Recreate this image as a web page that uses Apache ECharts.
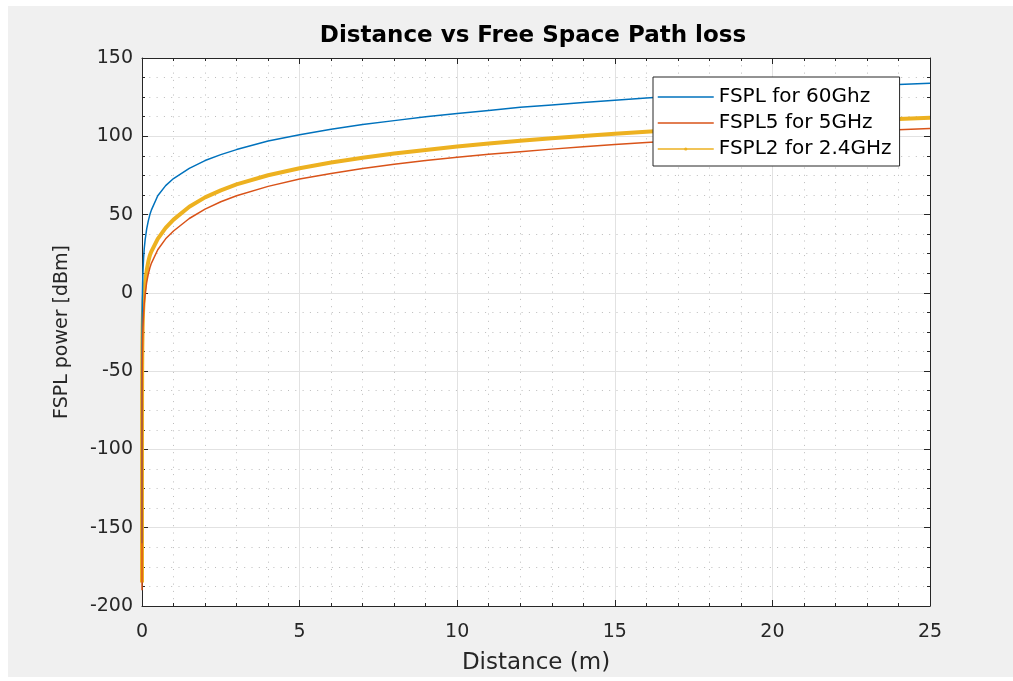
<!DOCTYPE html>
<html>
<head>
<meta charset="utf-8">
<script src="https://cdn.jsdelivr.net/npm/echarts@6/dist/echarts.min.js"></script>
<style>
html,body{margin:0;padding:0;background:#ffffff;}
#chart{width:1013px;height:681px;}
</style>
</head>
<body>
<div id="chart"></div>
<script>
// Distances (m) sampled along the curves
var distances = [0.0002, 0.001, 0.002, 0.005, 0.01, 0.02, 0.03, 0.05, 0.07, 0.1, 0.15, 0.2, 0.25, 0.3, 0.5, 0.75, 1, 1.5, 2, 2.5, 3, 4, 5, 6, 7, 8, 9, 10, 11, 12, 13, 14, 15, 16, 17, 18, 19, 20, 21, 22, 23, 24, 25];
// FSPL values (dBm)
var fspl60 = [-160, -55, -35, -17, -5, 6, 13, 22, 28, 34, 41, 46, 50, 53, 62, 68.5, 73, 79.5, 84.5, 88.3, 91.5, 97, 101, 104.5, 107.5, 110, 112.5, 114.5, 116.5, 118.5, 120, 121.5, 123, 124.5, 125.8, 127, 128, 129.2, 130.2, 131.2, 132, 133, 133.8];
var fspl5  = [-190, -95, -75, -57, -43, -30, -22, -13, -7, -1, 7, 12, 16, 19, 27.5, 34.5, 39.5, 47.5, 53.5, 58.2, 62, 68, 72.7, 76.3, 79.4, 82.1, 84.5, 86.6, 88.5, 90.2, 91.8, 93.3, 94.7, 96, 97.2, 98.3, 99.4, 100.4, 101.4, 102.3, 103.2, 104.1, 104.9];
var fspl2  = [-185, -88, -68, -49, -35, -22, -14, -5, 1, 7, 14.5, 20, 24, 26.5, 34.5, 41.5, 46.8, 55, 61, 65.5, 69.3, 75.1, 79.6, 83.2, 86.3, 89, 91.3, 93.5, 95.4, 97.1, 98.7, 100.2, 101.6, 102.9, 104.1, 105.2, 106.3, 107.3, 108.3, 109.2, 110.1, 111, 111.8];
var seriesNames = ['FSPL for 60Ghz', 'FSPL5 for 5GHz', 'FSPL2 for 2.4GHz'];
var xTicks = [0, 5, 10, 15, 20, 25];
var yTicks = [-200, -150, -100, -50, 0, 50, 100, 150];

function pairs(ys){ return distances.map(function(d,i){ return [d, ys[i]]; }); }

var chart = echarts.init(document.getElementById('chart'), null, {renderer:'canvas'});
var axisCol = '#262626';
var font = 'DejaVu Sans, Liberation Sans, Arial, sans-serif';
var G = {left:142, top:58, right:83, bottom:75};

function xAxis(pos, show){
  return {
    type:'value', position:pos, min:xTicks[0], max:xTicks[xTicks.length-1], interval:5,
    axisLine:{show:true, onZero:false, lineStyle:{color:axisCol, width:1}},
    axisTick:{show:true, inside:true, length:6, lineStyle:{color:axisCol}},
    minorTick:{show:true, splitNumber:5, length:3, lineStyle:{color:axisCol}},
    axisLabel:{show:show, color:axisCol, fontSize:19, fontFamily:font, margin:17},
    splitLine:{show:show, lineStyle:{color:'#e2e2e2', width:1}},
    minorSplitLine:{show:show, lineStyle:{color:'#bcbcbc', width:1, type:[1,6.3]}},
    name: show ? 'Distance (m)' : '', nameLocation:'middle', nameGap:46,
    nameTextStyle:{color:axisCol, fontSize:23, fontFamily:font}
  };
}
function yAxis(pos, show){
  return {
    type:'value', position:pos, min:yTicks[0], max:yTicks[yTicks.length-1], interval:50,
    axisLine:{show:true, onZero:false, lineStyle:{color:axisCol, width:1}},
    axisTick:{show:true, inside:true, length:6, lineStyle:{color:axisCol}},
    minorTick:{show:true, splitNumber:4, length:3, lineStyle:{color:axisCol}},
    axisLabel:{show:show, color:axisCol, fontSize:19, fontFamily:font, margin:9},
    splitLine:{show:show, lineStyle:{color:'#e2e2e2', width:1}},
    minorSplitLine:{show:show, lineStyle:{color:'#bcbcbc', width:1, type:[1,6.3]}},
    name: show ? 'FSPL power [dBm]' : '', nameLocation:'middle', nameGap:70,
    nameTextStyle:{color:axisCol, fontSize:19, fontFamily:font}
  };
}

var hidden = {opacity:0};
var option = {
  backgroundColor:'#ffffff',
  animation:false,
  graphic:[
    {type:'rect', z:-10, shape:{x:8, y:6, width:1005, height:671}, style:{fill:'#f0f0f0'}, silent:true},
    {type:'rect', z:-9, shape:{x:142, y:58, width:788, height:548}, style:{fill:'#ffffff'}, silent:true},
    {type:'text', x:533, y:25, style:{text:'Distance vs Free Space Path loss', fill:'#000', font:'bold 23px ' + font, textAlign:'center', textVerticalAlign:'top'}}
  ],
  grid:G,
  xAxis:[xAxis('bottom', true), xAxis('top', false)],
  yAxis:[yAxis('left', true), yAxis('right', false)],
  legend:{
    orient:'vertical', left:653, top:77, itemWidth:56, itemHeight:4, itemGap:6,
    padding:[10,8,7,4],
    backgroundColor:'#ffffff', borderColor:axisCol, borderWidth:1, borderRadius:0,
    textStyle:{color:'#000', fontSize:20, lineHeight:20, fontFamily:font},
    data:[
      {name:seriesNames[0], itemStyle:hidden, lineStyle:{width:1.5}},
      {name:seriesNames[1], itemStyle:hidden, lineStyle:{width:1.5}},
      {name:seriesNames[2], lineStyle:{width:1.5}}
    ]
  },
  series:[
    {name:seriesNames[0], type:'line', data:pairs(fspl60), symbol:'none', lineStyle:{color:'#0072BD', width:1.5}, itemStyle:{color:'#0072BD'}, z:3},
    {name:seriesNames[1], type:'line', data:pairs(fspl5), symbol:'none', lineStyle:{color:'#D95319', width:1.5}, itemStyle:{color:'#D95319'}, z:3},
    {name:seriesNames[2], type:'line', data:pairs(fspl2), symbol:'circle', symbolSize:3, showSymbol:false, lineStyle:{color:'#EDB120', width:4}, itemStyle:{color:'#EDB120'}, z:2}
  ]
};
chart.setOption(option);
</script>
</body>
</html>
